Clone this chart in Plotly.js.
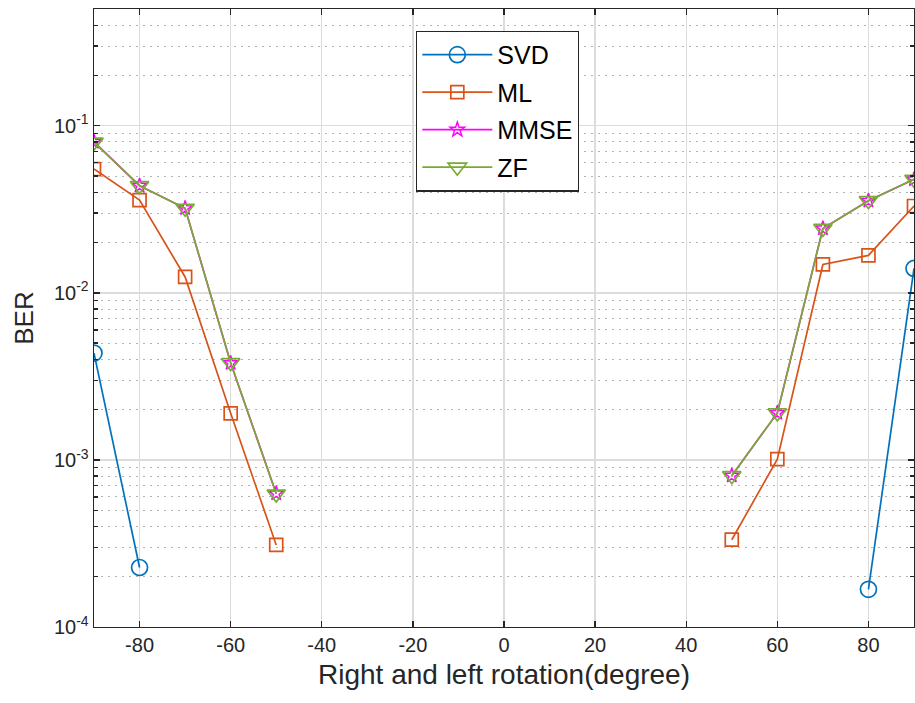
<!DOCTYPE html>
<html>
<head>
<meta charset="utf-8">
<script src="https://cdn.plot.ly/plotly-3.0.1.min.js"></script>
<style>html,body{margin:0;padding:0;background:#fff;}#chart{width:915px;height:703px;}</style>
</head>
<body>
<div id="chart"></div>
<script>
// Data
const svdX = [-90, -80, 80, 90];
const svdY = [0.00436, 0.000227, 0.000168, 0.0140];

const mlX = [-90, -80, -70, -60, -50, 50, 60, 70, 80, 90];
const mlY = [0.0551, 0.0359, 0.01245, 0.00190, 0.000310, 0.000333, 0.00101, 0.01479, 0.01675, 0.0331];

const mmseX = [-90, -80, -70, -60, -50, 50, 60, 70, 80, 90];
const mmseY = [0.0800, 0.0438, 0.0321, 0.00380, 0.000630, 0.000805, 0.00191, 0.0243, 0.0356, 0.0478];

const zfX = [-90, -80, -70, -60, -50, 50, 60, 70, 80, 90];
const zfY = [0.0798, 0.0438, 0.0321, 0.00382, 0.000625, 0.000805, 0.00191, 0.0243, 0.0356, 0.0478];

const xTickVals = [-80, -60, -40, -20, 0, 20, 40, 60, 80];
const xTickText = ['-80', '-60', '-40', '-20', '0', '20', '40', '60', '80'];
const yTickVals = [0.0001, 0.001, 0.01, 0.1];
const yTickText = ['10<sup>-4</sup>', '10<sup>-3</sup>', '10<sup>-2</sup>', '10<sup>-1</sup>'];

// split a series into left/right groups by inserting a gap
function withGap(xs, ys) {
  const X = [], Y = [];
  for (let i = 0; i < xs.length; i++) {
    if (i > 0 && xs[i] - xs[i-1] > 20) { X.push(null); Y.push(null); }
    X.push(xs[i]); Y.push(ys[i]);
  }
  return {X, Y};
}

const s = withGap(svdX, svdY), m = withGap(mlX, mlY), e = withGap(mmseX, mmseY), z = withGap(zfX, zfY);

const traces = [
  {x: s.X, y: s.Y, name: 'SVD', mode: 'lines+markers', legendgroup: 'a',
   line: {color: '#0072BD', width: 1.7},
   marker: {symbol: 'circle-open', size: 16, color: '#0072BD', line: {width: 1.7}}},
  {x: m.X, y: m.Y, name: 'ML', mode: 'lines+markers', legendgroup: 'b',
   line: {color: '#D95319', width: 1.7},
   marker: {symbol: 'square-open', size: 13, color: '#D95319', line: {width: 1.7}}},
  {x: e.X, y: e.Y, name: 'MMSE', mode: 'lines+markers', legendgroup: 'c',
   line: {color: '#FF00FF', width: 1.7},
   marker: {symbol: 'star-open', size: 11, color: '#FF00FF', line: {width: 1.4}}},
  {x: z.X, y: z.Y, name: 'ZF', mode: 'lines+markers', legendgroup: 'd',
   line: {color: '#77AC30', width: 1.7},
   marker: {symbol: 'triangle-down-open', size: 16, color: '#77AC30', line: {width: 1.7}}}
];

const axisCommon = {
  showline: true, linecolor: '#262626', linewidth: 1.4, mirror: 'allticks',
  ticks: 'inside', tickcolor: '#262626', tickwidth: 1.4, ticklen: 6,
  gridcolor: '#dcdcdc', gridwidth: 1.3, zeroline: false,
  tickfont: {family: 'Liberation Sans, Arial, sans-serif', size: 20, color: '#262626'}
};

const layout = {
  width: 915, height: 703,
  paper_bgcolor: '#ffffff', plot_bgcolor: '#ffffff',
  margin: {l: 94, r: 1, t: 9, b: 76},
  showlegend: true,
  font: {family: 'Liberation Sans, Arial, sans-serif', color: '#262626'},
  xaxis: Object.assign({}, axisCommon, {
    range: [-90, 90], tickmode: 'array', tickvals: xTickVals, ticktext: xTickText,
    title: {text: 'Right and left rotation(degree)', font: {size: 28, color: '#262626'}, standoff: 9}
  }),
  yaxis: Object.assign({}, axisCommon, {
    type: 'log', range: [-4, Math.log10(0.5)],
    tickmode: 'array', tickvals: yTickVals, ticktext: yTickText,
    minor: {dtick: 'D1', ticks: 'inside', ticklen: 4, tickcolor: '#262626', tickwidth: 1.3,
            showgrid: true, gridcolor: '#b4b4b4', griddash: '1.5px,5.5px', gridwidth: 1},
    title: {text: 'BER', font: {size: 26, color: '#262626'}, standoff: 12}
  }),
  legend: {
    x: 0.3927, y: 0.965, xanchor: 'left', yanchor: 'top',
    bgcolor: '#ffffff', bordercolor: '#262626', borderwidth: 1.3,
    font: {family: 'Liberation Sans, Arial, sans-serif', size: 25, color: '#000000'},
    itemwidth: 70, traceorder: 'grouped', tracegroupgap: 2,
    entrywidthmode: 'pixels', entrywidth: 92
  }
};

Plotly.newPlot('chart', traces, layout, {displayModeBar: false, staticPlot: true});
</script>
</body>
</html>
